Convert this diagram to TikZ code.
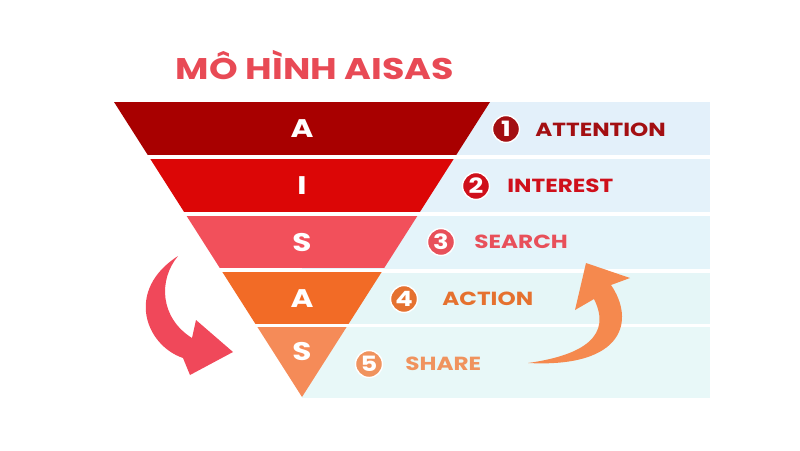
\documentclass[tikz,border=0pt]{standalone}
\usepackage{fontspec}
\setmainfont{Poppins}[FakeStretch=1.22]
\usetikzlibrary{calc}
\definecolor{bandA}{HTML}{A80000}
\definecolor{bandB}{HTML}{DC0606}
\definecolor{bandC}{HTML}{F2505B}
\definecolor{bandD}{HTML}{F26B26}
\definecolor{bandE}{HTML}{F58B58}
\definecolor{txtA}{HTML}{A30F12}
\definecolor{txtB}{HTML}{CF101B}
\definecolor{txtC}{HTML}{E8505A}
\definecolor{txtD}{HTML}{E5712F}
\definecolor{txtE}{HTML}{F0935E}
\definecolor{panelA}{HTML}{E3F0FA}
\definecolor{panelB}{HTML}{E4F2FA}
\definecolor{panelC}{HTML}{E4F4FA}
\definecolor{panelD}{HTML}{E5F6F7}
\definecolor{panelE}{HTML}{E8F8F8}
\definecolor{titlered}{HTML}{E84A55}
\definecolor{arrowred}{HTML}{F0485A}
\definecolor{arroworange}{HTML}{F5894E}
\tikzset{
	letter/.style={text=white, font=\bfseries\fontsize{14.5}{14.5}\selectfont},
	stagetext/.style={anchor=west, inner sep=0pt, font=\bfseries\fontsize{10.8}{10.8}\selectfont},
	numdot/.style={circle, draw=white, line width=0.8pt, inner sep=0pt, minimum size=0.54cm, text=white, font=\bfseries\fontsize{12}{12}\selectfont}
}

\begin{document}
\begin{tikzpicture}[x=0.02cm, y=-0.02cm]
		%%%%% START %%%%%
		\useasboundingbox (0, 0) rectangle (800, 450);
		
		\node[text=titlered, font=\bfseries\fontsize{17}{17}\selectfont] (title) at (315, 65) {MÔ HÌNH AISAS};
		
		% panels
		\fill[panelA] (302, 102) rectangle (710, 155);
		\fill[panelB] (302, 159) rectangle (710, 212);
		\fill[panelC] (302, 216) rectangle (710, 269);
		\fill[panelD] (302, 273) rectangle (710, 324);
		\fill[panelE] (302, 327) rectangle (710, 398);
		
		% funnel
		\begin{scope}
			\clip (114, 102) -- (490, 102) -- (302, 397) -- cycle;
			\fill[bandA] (100, 102) rectangle (500, 155);
			\fill[bandB] (100, 159) rectangle (500, 212);
			\fill[bandC] (100, 216) rectangle (500, 268);
			\fill[bandD] (100, 272) rectangle (500, 324);
			\fill[bandE] (100, 327) rectangle (500, 400);
		\end{scope}
		
		\node[letter] (la) at (302, 129) {A};
		\node[letter] (li) at (302, 186) {I};
		\node[letter] (ls) at (302, 243) {S};
		\node[letter] (lb) at (302, 299) {A};
		\node[letter] (lt) at (302, 352) {S};
		
		\node[numdot, fill=txtA] (n1) at (506, 129) {1};
		\node[numdot, fill=txtB] (n2) at (476, 186) {2};
		\node[numdot, fill=txtC] (n3) at (441, 242) {3};
		\node[numdot, fill=txtD] (n4) at (404, 299) {4};
		\node[numdot, fill=txtE] (n5) at (369, 364) {5};
		
		\node[stagetext, text=txtA] (attention) at (535, 130) {ATTENTION};
		\node[stagetext, text=txtB] (interest) at (507, 186) {INTEREST};
		\node[stagetext, text=txtC] (search) at (474, 242) {SEARCH};
		\node[stagetext, text=txtD] (action) at (442, 299) {ACTION};
		\node[stagetext, text=txtE] (share) at (405, 364) {SHARE};
		
		% curved arrows
		\fill[arrowred] (178, 256) .. controls (158, 280) and (160, 318) .. (192, 338)
			-- (196, 320) -- (233, 352) -- (190, 375) -- (183, 358)
			.. controls (145, 345) and (125, 290) .. (178, 256) -- cycle;
		\fill[arroworange] (528, 363) .. controls (585, 355) and (612, 335) .. (594, 299)
			-- (575, 310) -- (586, 263) -- (630, 278) -- (611, 285)
			.. controls (635, 320) and (625, 368) .. (528, 363) -- cycle;
		
		%%%%% END %%%%%
	\end{tikzpicture}
\end{document}
